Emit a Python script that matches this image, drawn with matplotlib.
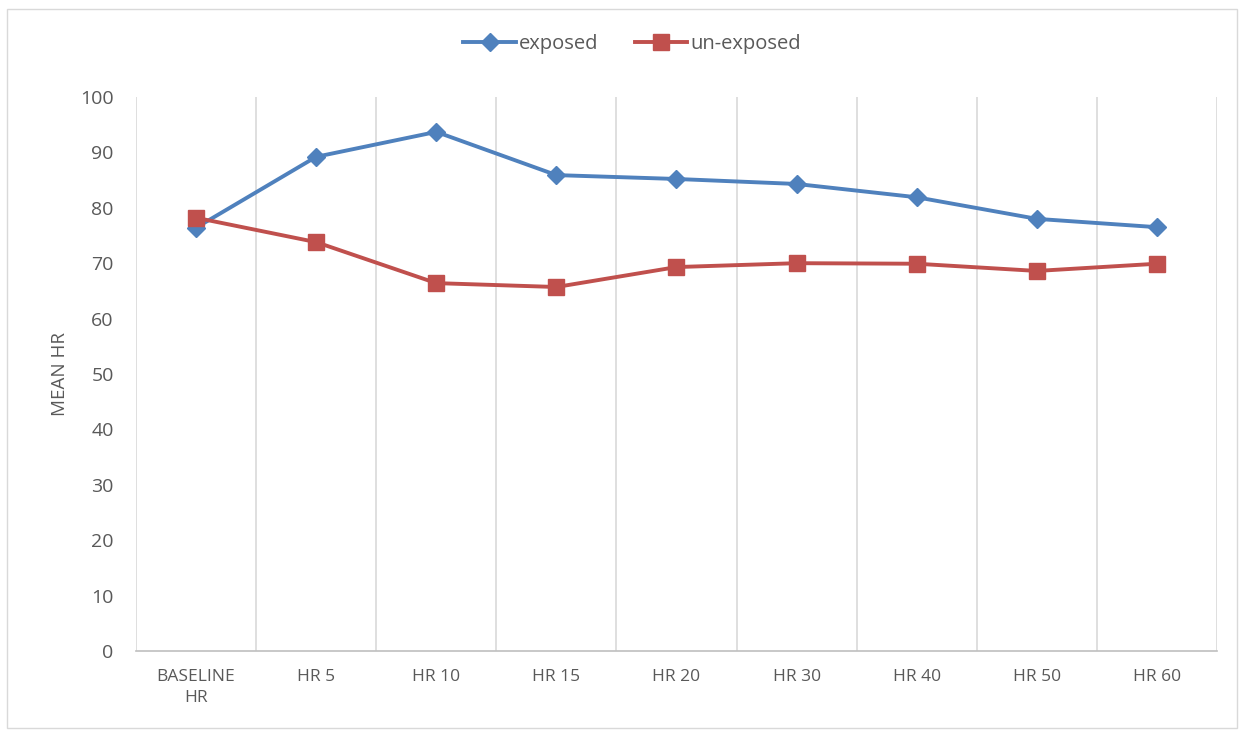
import numpy as np
import matplotlib.pyplot as plt
from matplotlib.patches import Rectangle

categories = ["BASELINE\nHR", "HR 5", "HR 10", "HR 15", "HR 20",
              "HR 30", "HR 40", "HR 50", "HR 60"]
exposed = [76.4, 89.2, 93.7, 85.9, 85.2, 84.3, 81.9, 78.0, 76.5]
unexposed = [78.2, 73.8, 66.4, 65.7, 69.3, 70.0, 69.9, 68.6, 69.9]

plt.rcParams['font.family'] = ['Open Sans', 'DejaVu Sans']
text_color = '#595959'
grid_color = '#D9D9D9'

fig = plt.figure(figsize=(12.44, 7.32), dpi=100)
ax = fig.add_axes([0.1093, 0.1107, 0.8690, 0.7568])

# light frame around the whole chart
fig.patches.append(Rectangle((0.006, 0.006), 0.988, 0.982, transform=fig.transFigure,
                             fill=False, edgecolor='#D9D9D9', linewidth=1))

x = np.arange(len(categories))
ax.plot(x, exposed, color='#4F81BD', linewidth=2.8, marker='D', markersize=9.5,
        label='exposed', zorder=3)
ax.plot(x, unexposed, color='#C0504D', linewidth=2.8, marker='s', markersize=11,
        label='un-exposed', zorder=3)

ax.set_xlim(-0.5, len(categories) - 0.5)
ax.set_ylim(0, 100)
ax.set_yticks(np.arange(0, 101, 10))
ax.set_xticks(x)
ax.set_xticklabels(categories, fontsize=12.5, color=text_color, linespacing=1.45)
ax.tick_params(axis='y', labelsize=14, colors=text_color, length=0, pad=16)
ax.tick_params(axis='x', length=0, pad=13)

# vertical gridlines between categories
for b in np.arange(-0.5, len(categories), 1.0):
    ax.axvline(b, color=grid_color, linewidth=1.2, zorder=1)

for side in ['top', 'left', 'right']:
    ax.spines[side].set_visible(False)
ax.spines['bottom'].set_color('#BFBFBF')
ax.spines['bottom'].set_linewidth(1.2)

ax.set_ylabel('MEAN HR', fontsize=13.5, color=text_color, labelpad=8)

fig.legend(loc='center', bbox_to_anchor=(0.508, 0.94), ncol=2, frameon=False,
           fontsize=14.5, labelcolor=text_color, handlelength=2.6,
           handletextpad=0.15, columnspacing=1.8)

fig.savefig('out.png', dpi=100)
